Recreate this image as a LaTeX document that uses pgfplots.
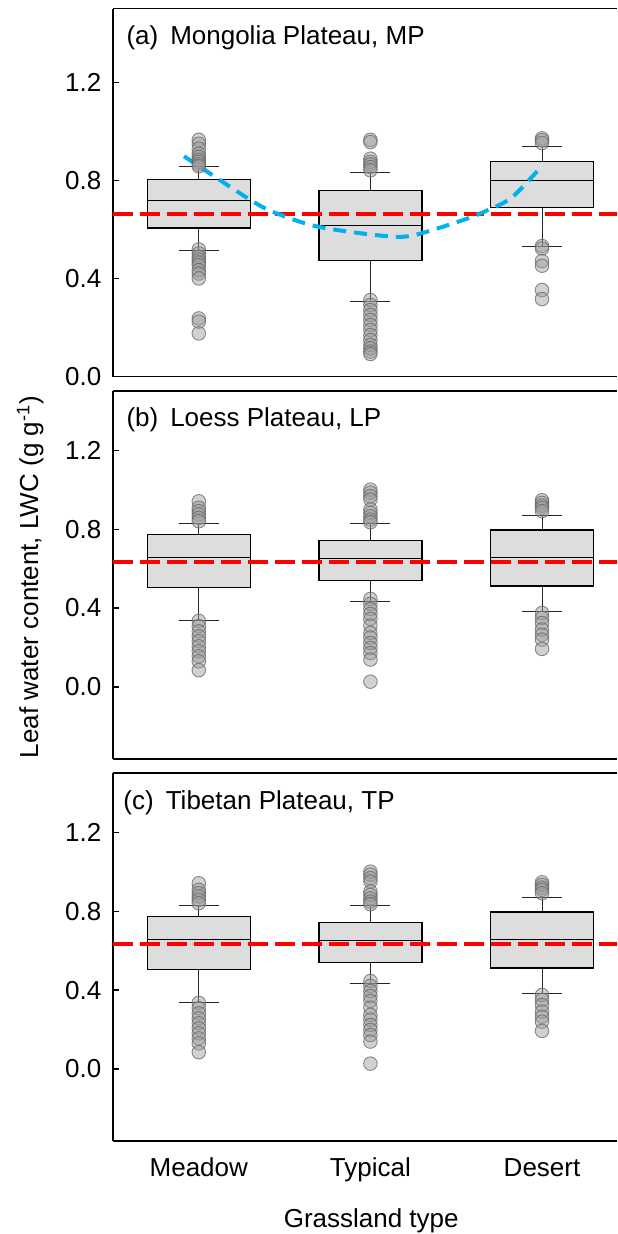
\documentclass[border=0pt]{standalone}
\usepackage{fontspec}
\setmainfont{Liberation Sans}
\usepackage{pgfplots}
\pgfplotsset{compat=1.18}
\usepgfplotslibrary{statistics}

\definecolor{boxgray}{RGB}{221,221,221}
\definecolor{fitblue}{RGB}{0,176,240}
\definecolor{meanred}{RGB}{255,0,0}
\newcommand{\fs}{\fontsize{13}{15}\selectfont}

\pgfplotsset{
  panel/.style={
    scale only axis, width=252pt, height=184pt, anchor=south west,
    xmin=-0.5, xmax=2.437,
    axis x line*=box, axis y line*=left,
    axis line style={line width=0.7pt, black},
    xtick=\empty,
    ytick={0,0.4,0.8,1.2},
    tick align=inside, major tick length=3pt,
    tick style={line width=0.6pt, black},
    yticklabel style={/pgf/number format/fixed, /pgf/number format/fixed zerofill,
      /pgf/number format/precision=1, /pgf/number format/assume math mode=true,
      font=\fs, xshift=-2.3pt},
    boxplot/draw direction=y,
    boxplot/every box/.style={draw=black, line width=0.7pt, fill=boxgray},
    boxplot/every whisker/.style={draw=black!85, line width=0.5pt},
    boxplot/every median/.style={draw=black, line width=0.5pt},
  },
  outl/.style={only marks, mark=*, mark size=3.4pt,
    mark options={fill=black!40, fill opacity=0.45, draw=black!60, draw opacity=0.75, line width=0.45pt}},
  meanline/.style={meanred, line width=2pt, dash pattern=on 10pt off 3.5pt},
}
% box: position, lower whisker, q1, median, q3, upper whisker
\newcommand{\bx}[6]{\addplot[black, boxplot prepared={draw position=#1, lower whisker=#2,
  lower quartile=#3, median=#4, upper quartile=#5, upper whisker=#6,
  box extend=0.6, whisker extend=0.233}] coordinates {};}

\begin{document}
\begin{tikzpicture}
\path[use as bounding box] (0,0) rectangle (308.5pt,617pt);

% (a) Mongolia Plateau
\begin{axis}[panel, at={(56.5pt,428.7pt)}, ymin=0, ymax=1.5]
\bx{0}{0.515}{0.606}{0.717}{0.804}{0.858}
\bx{1}{0.308}{0.472}{0.616}{0.759}{0.833}
\bx{2}{0.529}{0.690}{0.799}{0.877}{0.936}
\addplot[outl] coordinates {
 (0,0.965) (0,0.949) (0,0.929) (0,0.908) (0,0.895) (0,0.884) (0,0.875) (0,0.865) (0,0.857)
 (0,0.518) (0,0.502) (0,0.488) (0,0.477) (0,0.465) (0,0.454) (0,0.434) (0,0.420) (0,0.400)
 (0,0.237) (0,0.224) (0,0.176)};
\addplot[outl] coordinates {
 (1,0.965) (1,0.956) (1,0.888) (1,0.875) (1,0.865) (1,0.854) (1,0.841)
 (1,0.312) (1,0.292) (1,0.271) (1,0.251) (1,0.231) (1,0.210) (1,0.190) (1,0.169)
 (1,0.149) (1,0.129) (1,0.115) (1,0.102) (1,0.092)};
\addplot[outl] coordinates {
 (2,0.971) (2,0.963) (2,0.952) (2,0.532) (2,0.522) (2,0.471) (2,0.452) (2,0.353) (2,0.316)};
\addplot[meanline] coordinates {(-0.5,0.664) (2.437,0.664)};
\addplot[fitblue, line width=2pt, dash pattern=on 6.5pt off 4pt, smooth] coordinates {
 (-0.086,0.898) (0.303,0.719) (0.458,0.664) (0.701,0.610) (1.070,0.574)
 (1.245,0.575) (1.536,0.637) (1.692,0.681) (1.828,0.732) (1.993,0.854)};
\node[anchor=base west, inner sep=0, font=\fs]
  at (rel axis cs:0.026,0.903) {(a)\hspace{6pt}Mongolia Plateau, MP};
\end{axis}

% (b) Loess Plateau
\begin{axis}[panel, at={(56.5pt,237.5pt)}, ymin=-0.365, ymax=1.5]
\bx{0}{0.335}{0.505}{0.654}{0.774}{0.830}
\bx{1}{0.431}{0.539}{0.649}{0.742}{0.828}
\bx{2}{0.380}{0.512}{0.657}{0.796}{0.869}
\addplot[outl] coordinates {
 (0,0.941) (0,0.908) (0,0.891) (0,0.874) (0,0.857) (0,0.840)
 (0,0.335) (0,0.308) (0,0.282) (0,0.257) (0,0.232) (0,0.206) (0,0.181) (0,0.155) (0,0.130) (0,0.085)};
\addplot[outl] coordinates {
 (1,1.000) (1,0.985) (1,0.967) (1,0.950) (1,0.899) (1,0.882) (1,0.865) (1,0.848) (1,0.835)
 (1,0.446) (1,0.421) (1,0.395) (1,0.370) (1,0.345) (1,0.311) (1,0.274) (1,0.250)
 (1,0.223) (1,0.198) (1,0.172) (1,0.139) (1,0.027)};
\addplot[outl] coordinates {
 (2,0.946) (2,0.933) (2,0.919) (2,0.908) (2,0.891)
 (2,0.375) (2,0.350) (2,0.324) (2,0.291) (2,0.265) (2,0.240) (2,0.193)};
\addplot[meanline] coordinates {(-0.5,0.632) (2.437,0.632)};
\node[anchor=base west, inner sep=0, font=\fs]
  at (rel axis cs:0.026,0.903) {(b)\hspace{6pt}Loess Plateau, LP};
\end{axis}

% (c) Tibetan Plateau
\begin{axis}[panel, at={(56.5pt,46.5pt)}, ymin=-0.365, ymax=1.5,
  xtick={0,1,2}, xticklabels={Meadow,Typical,Desert}, xticklabel pos=lower,
  xtick style={draw=none},
  xticklabel style={font=\fs, anchor=base, yshift=-17.9pt}]
\bx{0}{0.335}{0.505}{0.654}{0.774}{0.830}
\bx{1}{0.431}{0.539}{0.649}{0.742}{0.828}
\bx{2}{0.380}{0.512}{0.657}{0.796}{0.869}
\addplot[outl] coordinates {
 (0,0.941) (0,0.908) (0,0.891) (0,0.874) (0,0.857) (0,0.840)
 (0,0.335) (0,0.308) (0,0.282) (0,0.257) (0,0.232) (0,0.206) (0,0.181) (0,0.155) (0,0.130) (0,0.085)};
\addplot[outl] coordinates {
 (1,1.000) (1,0.985) (1,0.967) (1,0.950) (1,0.899) (1,0.882) (1,0.865) (1,0.848) (1,0.835)
 (1,0.446) (1,0.421) (1,0.395) (1,0.370) (1,0.345) (1,0.311) (1,0.274) (1,0.250)
 (1,0.223) (1,0.198) (1,0.172) (1,0.139) (1,0.027)};
\addplot[outl] coordinates {
 (2,0.946) (2,0.933) (2,0.919) (2,0.908) (2,0.891)
 (2,0.375) (2,0.350) (2,0.324) (2,0.291) (2,0.265) (2,0.240) (2,0.193)};
\addplot[meanline] coordinates {(-0.5,0.632) (2.437,0.632)};
\node[anchor=base west, inner sep=0, font=\fs]
  at (rel axis cs:0.02,0.9) {(c)\hspace{6pt}Tibetan Plateau, TP};
\end{axis}

\node[anchor=base, inner sep=0, font=\fs] at (185.6pt,3.2pt) {Grassland type};
\node[anchor=base, inner sep=0, rotate=90, font=\fs]
  at (19pt,328.5pt) {Leaf water content, LWC (g g\textsuperscript{-1})};
\end{tikzpicture}
\end{document}
